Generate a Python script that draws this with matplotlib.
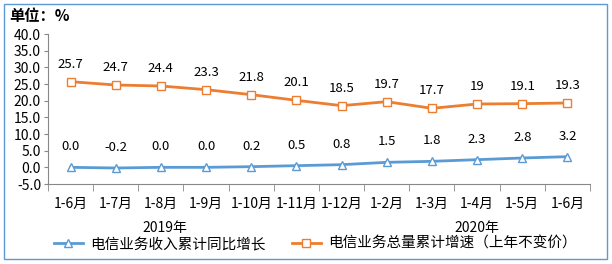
import numpy as np
import matplotlib.pyplot as plt
from matplotlib.patches import Rectangle

plt.rcParams['font.family'] = ['Noto Sans CJK SC', 'DejaVu Sans']

months   = ["1-6月", "1-7月", "1-8月", "1-9月", "1-10月", "1-11月",
            "1-12月", "1-2月", "1-3月", "1-4月", "1-5月", "1-6月"]
revenue  = [0.0, -0.2, 0.0, 0.0, 0.2, 0.5, 0.8, 1.5, 1.8, 2.3, 2.8, 3.2]
volume   = [25.7, 24.7, 24.4, 23.3, 21.8, 20.1, 18.5, 19.7, 17.7, 19.0, 19.1, 19.3]
rev_lbl  = ["0.0", "-0.2", "0.0", "0.0", "0.2", "0.5", "0.8", "1.5", "1.8", "2.3", "2.8", "3.2"]
vol_lbl  = ["25.7", "24.7", "24.4", "23.3", "21.8", "20.1", "18.5", "19.7", "17.7", "19", "19.1", "19.3"]
yticks   = [-5, 0, 5, 10, 15, 20, 25, 30, 35, 40]

BLUE   = "#5b9bd5"
ORANGE = "#ed7d31"

fig = plt.figure(figsize=(6.12, 2.64), dpi=100)
fig.patches.append(Rectangle((0.007, 0.02), 0.985, 0.965, transform=fig.transFigure,
                             fill=False, edgecolor="#5b9bd5", lw=1.0))
ax = fig.add_axes([48/612, 1 - 184/264, 542/612, 150/264])

x = np.arange(len(months))
ax.plot(x, revenue, color=BLUE, lw=2, marker="^", ms=6, mfc="white", mec=BLUE, mew=1,
        label="电信业务收入累计同比增长")
ax.plot(x, volume, color=ORANGE, lw=2, marker="s", ms=6, mfc="white", mec=ORANGE, mew=1,
        label="电信业务总量累计增速（上年不变价）")

for xi, v, t in zip(x, revenue, rev_lbl):
    ax.annotate(t, (xi, v), xytext=(0, 10), textcoords="offset points",
                ha="center", va="bottom", fontsize=9.5)
for xi, v, t in zip(x, volume, vol_lbl):
    ax.annotate(t, (xi, v), xytext=(0, 8), textcoords="offset points",
                ha="center", va="bottom", fontsize=9.5)

ax.set_xlim(-0.5, len(months) - 0.5)
ax.set_ylim(-5, 40)
ax.set_yticks(yticks)
ax.set_yticklabels([f"{v:.1f}" for v in yticks], fontsize=10)
ax.set_xticks(x)
ax.set_xticklabels(months, fontsize=10)
ax.set_xticks(np.arange(len(months) + 1) - 0.5, minor=True)
ax.tick_params(axis="x", which="major", length=0, pad=9)
ax.tick_params(axis="x", which="minor", length=5, color="#888888")
ax.tick_params(axis="y", length=3, color="#888888", pad=2)
for s in ["top", "right"]:
    ax.spines[s].set_visible(False)
for s in ["left", "bottom"]:
    ax.spines[s].set_color("#888888")

fig.text(9/612, 1 - 16/264, "单位：%", fontsize=11, fontweight="bold", va="center")
fig.text(165/612, 1 - 228/264, "2019年", fontsize=10, ha="center", va="center")
fig.text(477/612, 1 - 228/264, "2020年", fontsize=10, ha="center", va="center")

ax.legend(loc="center", bbox_to_anchor=(0.515, 1 - 244/264), bbox_transform=fig.transFigure,
          ncol=2, frameon=False, fontsize=10.5, handlelength=2.0, columnspacing=1.8,
          handletextpad=0.5, borderaxespad=0)

fig.savefig("out.png", dpi=100)
